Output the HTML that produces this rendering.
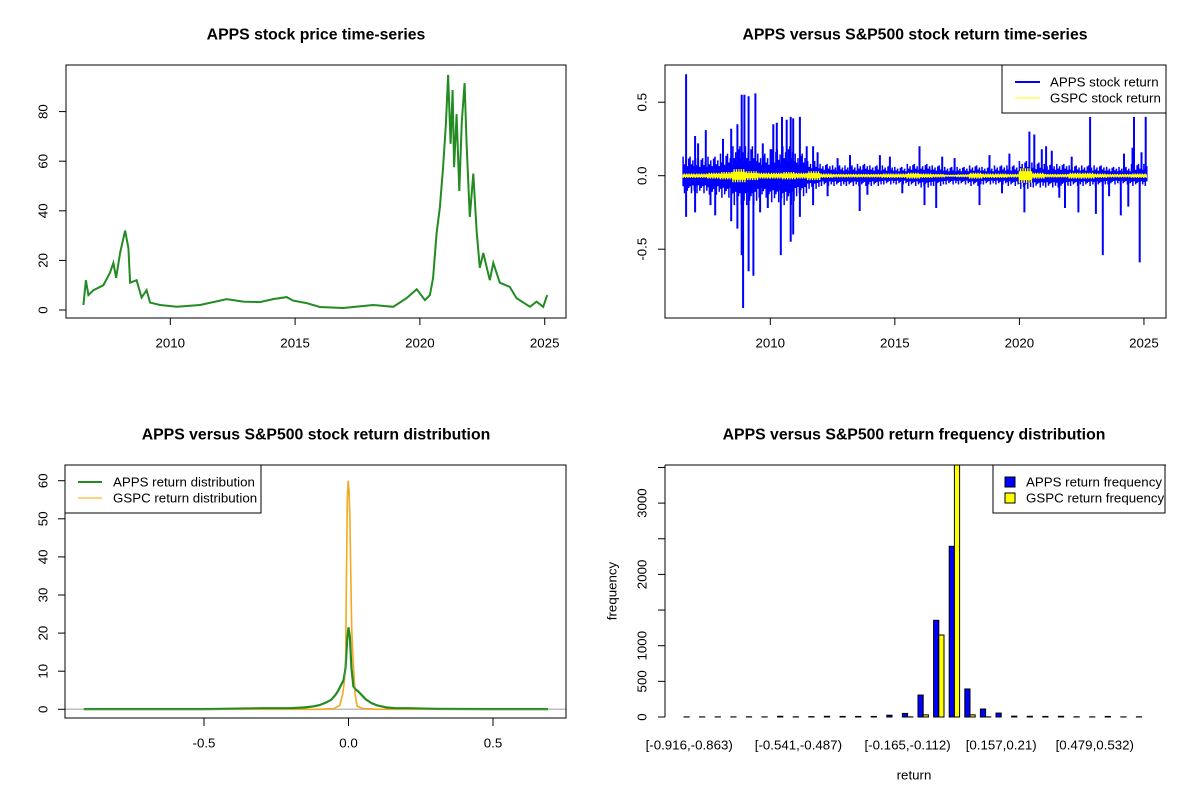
<!DOCTYPE html>
<html><head><meta charset="utf-8"><style>
html,body{margin:0;padding:0;background:#fff;}
svg{display:block;font-family:"Liberation Sans",Arial,sans-serif;}
</style></head><body>
<svg id="s" width="1200" height="800" viewBox="0 0 1200 800" xmlns="http://www.w3.org/2000/svg"></svg>
<script>
// ---------- Panel 1 data: APPS price ----------
const priceYears=[2006.52,2006.62,2006.72,2006.92,2007.32,2007.58,2007.72,2007.83,2007.99,2008.19,2008.32,2008.39,2008.65,2008.85,2009.05,2009.19,2009.59,2010.26,2011.19,2012.26,2012.92,2013.59,2014.12,2014.66,2014.92,2015.46,2015.99,2016.93,2018.13,2018.93,2019.47,2019.87,2020.2,2020.4,2020.53,2020.67,2020.8,2020.93,2021.04,2021.13,2021.23,2021.31,2021.37,2021.47,2021.58,2021.68,2021.79,2021.87,2022.0,2022.14,2022.27,2022.4,2022.54,2022.8,2022.94,2023.2,2023.6,2023.87,2024.41,2024.67,2024.94,2025.1];
const priceValues=[2,12,6,8,10,15,19,13,23,32,25,11,12,5,8,3,2,1.3,2,4.4,3.4,3.2,4.4,5.2,3.8,2.8,1.2,0.8,2,1.3,4.8,8.4,4,6,13,31,41.5,57.7,75,94.8,67,88.7,57.6,79,48,76,91.5,67,37.5,55,32,17,23,12,19,11,9.3,4.8,1.3,3.4,1.3,6];
const priceTicksX=[2010,2015,2020,2025];
const priceTicksY=[0,20,40,60,80];
// ---------- Panel 2 data: returns ----------
const bandYears=[2006.5,2007,2007.5,2008,2008.5,2009,2009.5,2010,2010.5,2011,2011.5,2012,2012.5,2013,2013.5,2014,2014.5,2015,2015.5,2016,2016.5,2017,2017.5,2018,2018.5,2019,2019.5,2020,2020.5,2021,2021.5,2022,2022.5,2023,2023.5,2024,2024.5,2025];
const appsBandUp=[0.13,0.12,0.13,0.15,0.2,0.2,0.15,0.18,0.2,0.15,0.1,0.08,0.07,0.07,0.08,0.07,0.07,0.06,0.08,0.08,0.07,0.06,0.06,0.07,0.06,0.07,0.07,0.1,0.09,0.08,0.08,0.07,0.07,0.07,0.06,0.06,0.08,0.08];
const appsBandDn=[-0.12,-0.12,-0.13,-0.15,-0.2,-0.2,-0.15,-0.18,-0.2,-0.14,-0.09,-0.07,-0.07,-0.07,-0.07,-0.07,-0.06,-0.06,-0.07,-0.08,-0.07,-0.06,-0.06,-0.07,-0.06,-0.06,-0.07,-0.09,-0.08,-0.08,-0.08,-0.07,-0.07,-0.07,-0.06,-0.06,-0.07,-0.07];
const gspcBand=[0.015,0.015,0.02,0.025,0.045,0.03,0.02,0.02,0.025,0.02,0.03,0.015,0.012,0.012,0.012,0.012,0.015,0.015,0.02,0.015,0.012,0.008,0.01,0.02,0.015,0.015,0.012,0.05,0.02,0.012,0.012,0.02,0.02,0.015,0.012,0.012,0.015,0.015];
const spikeYears=[2006.62,2006.62,2006.98,2006.98,2007.41,2007.79,2008.43,2008.43,2008.68,2008.68,2008.85,2008.85,2008.91,2008.96,2009.13,2009.13,2009.32,2009.4,2009.59,2010.12,2010.26,2010.42,2010.47,2010.66,2010.82,2010.82,2010.92,2010.92,2011.19,2011.19,2011.46,2011.72,2011.72,2013.59,2015.99,2016.19,2016.66,2018.4,2020.2,2020.4,2020.6,2021.07,2021.83,2022.37,2022.84,2023.07,2023.35,2024.07,2024.37,2024.54,2024.6,2024.83,2025.07,
2007.1,2007.6,2008.1,2009.7,2009.9,2010.05,2011.9,2012.3,2012.7,2013.2,2013.9,2014.4,2014.8,2015.3,2016.9,2017.4,2018.8,2019.3,2019.6,2020.9,2021.3,2021.6,2022.1,2023.6,2024.2,2024.9];
const spikeValues=[0.69,-0.28,0.27,-0.25,0.31,-0.27,0.32,-0.31,0.35,-0.36,0.55,-0.54,-0.9,0.55,0.54,-0.65,-0.68,0.56,-0.25,0.35,0.36,-0.54,0.4,0.38,0.4,-0.45,0.39,-0.4,0.4,-0.28,0.2,0.2,-0.2,-0.24,0.2,-0.2,-0.22,-0.2,-0.25,0.3,0.28,0.2,-0.22,-0.25,0.4,-0.26,-0.54,-0.27,-0.21,0.19,0.4,-0.59,0.4,
0.22,-0.2,0.25,0.22,-0.22,0.18,0.16,-0.14,0.12,0.14,-0.13,0.14,0.13,-0.12,0.13,0.12,0.14,-0.12,0.15,0.18,0.17,-0.15,0.13,-0.14,0.15,0.16];
const retTicksY=[0.5,0,-0.5];
const retTickLabels=["0.5","0.0","-0.5"];
// ---------- Panel 3 data: densities ----------
const appsDensX=[-0.916,-0.5,-0.3,-0.2,-0.15,-0.12,-0.1,-0.08,-0.06,-0.045,-0.035,-0.025,-0.017,-0.01,-0.005,0,0.005,0.01,0.017,0.025,0.035,0.045,0.06,0.08,0.1,0.13,0.16,0.2,0.3,0.5,0.69];
const appsDensY=[0.05,0.05,0.3,0.3,0.5,0.8,1.1,1.7,2.5,3.8,5,6.5,7.7,11,18,21.5,19,11,6,5.2,4.6,3.8,2.6,1.6,1.0,0.5,0.3,0.3,0.1,0.05,0.05];
const gspcDensX=[-0.916,-0.1,-0.05,-0.03,-0.02,-0.015,-0.01,-0.007,-0.004,-0.001,0.002,0.005,0.008,0.011,0.016,0.023,0.03,0.05,0.1,0.69];
const gspcDensY=[0,0,0.2,1,4,7,12,36,55,60,57,50,35,21,13,4,0.8,0.2,0,0];
const densTicksX=[-0.5,0,0.5];
const densTickLabels=["-0.5","0.0","0.5"];
const densTicksY=[0,10,20,30,40,50,60];
// ---------- Panel 4 data: frequencies ----------
const binLabels=["[-0.916,-0.863)","[-0.541,-0.487)","[-0.165,-0.112)","[0.157,0.21)","[0.479,0.532)"];
const binLabelIdx=[0,7,14,20,26];
const appsFreq=[2,2,2,2,3,2,10,3,5,10,8,8,8,25,50,308,1356,2394,393,112,55,12,10,8,10,3,2,8,2,3];
const gspcFreq=[0,0,0,0,0,0,0,0,0,0,0,0,0,0,2,30,1150,3600,30,2,0,0,0,0,0,0,0,0,0,0];
const freqTicks=[0,500,1000,1500,2000,2500,3000,3500];
const freqTickLabels=["0","500","1000","","2000","","3000",""];

const FS=13.3, TFS=15.8;
const NS="http://www.w3.org/2000/svg";
const svg=document.getElementById('s');
function mk(tag,attrs,parent){const e=document.createElementNS(NS,tag);for(const k in attrs)e.setAttribute(k,attrs[k]);(parent||svg).appendChild(e);return e;}
function txt(s,x,y,size,opts,parent){const e=mk('text',Object.assign({x:x,y:y,'font-size':size,'text-anchor':'middle','dominant-baseline':'central',fill:'#000'},opts||{}),parent);e.textContent=s;return e;}

// ===== Panel 1 =====
{
const g=mk('g',{});


const L=66,R=566,T=65,B=318;
const xs=y=>170.3+(y-2010)*24.96;
const ys=v=>310-v*2.48;
const t=txt('APPS stock price time-series',316,35,TFS,{'font-weight':'bold'},g);


let d=priceYears.map((y,i)=>(i?'L':'M')+xs(y).toFixed(1)+' '+ys(priceValues[i]).toFixed(1)).join(' ');
const p=mk('path',{d:d,fill:'none',stroke:'#228B22','stroke-width':2,'stroke-linejoin':'miter'},g);


const bx=mk('rect',{x:L,y:T,width:R-L,height:B-T,fill:'none',stroke:'#000','stroke-width':1},g);


priceTicksX.forEach(y=>{const x=xs(y);mk('line',{x1:x,x2:x,y1:B,y2:B+7,stroke:'#000'},g);const l=txt(String(y),x,343,FS,{},g);});
priceTicksY.forEach(v=>{const y=ys(v);mk('line',{x1:L,x2:L-7,y1:y,y2:y,stroke:'#000'},g);const l=txt(String(v),43,y,FS,{transform:`rotate(-90 43 ${y})`},g);});
}
// ===== Panel 2 =====
{
const g=mk('g',{});


const L=665,R=1166,T=65,B=318;
const xs=y=>770.3+(y-2010)*24.91;
const ys=v=>175.7-v*147;
const t=txt('APPS versus S&P500 stock return time-series',915,35,TFS,{'font-weight':'bold'},g);


const cp=mk('clipPath',{id:'c2'},g);mk('rect',{x:L,y:T,width:R-L,height:B-T},cp);
const inner=mk('g',{'clip-path':'url(#c2)'},g);
let d='';
bandYears.forEach((y,i)=>{
  const x0=xs(y), x1=Math.min(xs(y+0.5),xs(2025.12));
  let k=0;
  for(let x=x0;x<x1;x+=1.4,k++){
    const m=k%5;
    const f=[1,0.6,0.8,0.5,0.9][m];
    const f2=[0.6,1,0.55,0.85,0.7][m];
    d+=`M${x.toFixed(1)} ${ys(appsBandUp[i]*f).toFixed(1)}V${ys(appsBandDn[i]*f2).toFixed(1)}`;
  }
});
const band=mk('path',{d:d,stroke:'#0000FF','stroke-width':1.5,fill:'none'},inner);


let sd='';
spikeYears.forEach((y,i)=>{sd+=`M${xs(y).toFixed(1)} ${ys(0).toFixed(1)}V${ys(spikeValues[i]).toFixed(1)}`;});
const sp=mk('path',{d:sd,stroke:'#0000FF','stroke-width':2,fill:'none'},inner);


let yd='';
bandYears.forEach((y,i)=>{
  const x0=xs(y), x1=Math.min(xs(y+0.5),xs(2025.12));
  let k=0;
  for(let x=x0;x<x1;x+=1.2,k++){const f=(k%2)?1:0.6;yd+=`M${x.toFixed(1)} ${ys(gspcBand[i]*f).toFixed(1)}V${ys(-gspcBand[i]*(k%2?0.6:1)).toFixed(1)}`;}
});
const yl=mk('path',{d:yd,stroke:'#FFFF00','stroke-width':1.3,fill:'none'},inner);


const bx=mk('rect',{x:L,y:T,width:R-L,height:B-T,fill:'none',stroke:'#000'},g);


priceTicksX.forEach(y=>{const x=xs(y);mk('line',{x1:x,x2:x,y1:B,y2:B+7,stroke:'#000'},g);const l=txt(String(y),x,343,FS,{},g);});
retTicksY.forEach((v,i)=>{const y=ys(v);mk('line',{x1:L,x2:L-7,y1:y,y2:y,stroke:'#000'},g);const l=txt(retTickLabels[i],642,y,FS,{transform:`rotate(-90 642 ${y})`},g);});
const lg=mk('g',{},g);


mk('rect',{x:1002,y:65,width:164,height:48,fill:'#fff',stroke:'#000'},lg);
mk('line',{x1:1015,x2:1040,y1:82,y2:82,stroke:'#0000FF','stroke-width':2},lg);
mk('line',{x1:1015,x2:1040,y1:98,y2:98,stroke:'#FFFF00','stroke-width':1},lg);
txt('APPS stock return',1050,82,FS,{'text-anchor':'start'},lg);
txt('GSPC stock return',1050,98,FS,{'text-anchor':'start'},lg);
}
// ===== Panel 3 =====
{
const g=mk('g',{});


const L=65,R=566,T=465,B=718;
const xs=v=>348.5+v*289;
const ys=v=>709.3-v*3.81;
const t=txt('APPS versus S&P500 stock return distribution',316,435,TFS,{'font-weight':'bold'},g);


const base=mk('line',{x1:L,x2:R,y1:ys(0),y2:ys(0),stroke:'#BEBEBE','stroke-width':1.5},g);


const gd=gspcDensX.map((x,i)=>(i?'L':'M')+xs(x).toFixed(1)+' '+ys(gspcDensY[i]).toFixed(1)).join(' ');
const o=mk('path',{d:gd,fill:'none',stroke:'#FFA500','stroke-width':1.6},g);


const ad=appsDensX.map((x,i)=>(i?'L':'M')+xs(x).toFixed(1)+' '+ys(appsDensY[i]).toFixed(1)).join(' ');
const a=mk('path',{d:ad,fill:'none',stroke:'#228B22','stroke-width':2.2},g);


const gr=mk('path',{d:gd,fill:'none',stroke:'#BEBEBE','stroke-width':0.4,'stroke-opacity':0.6},g);


const bx=mk('rect',{x:L,y:T,width:R-L,height:B-T,fill:'none',stroke:'#000'},g);


densTicksX.forEach((v,i)=>{const x=xs(v);mk('line',{x1:x,x2:x,y1:B,y2:B+8,stroke:'#000'},g);const l=txt(densTickLabels[i],x,743,FS,{},g);});
densTicksY.forEach(v=>{const y=ys(v);mk('line',{x1:L,x2:L-7,y1:y,y2:y,stroke:'#000'},g);const l=txt(String(v),43,y,FS,{transform:`rotate(-90 43 ${y})`},g);});
const lg=mk('g',{},g);


mk('rect',{x:65,y:465,width:196,height:48,fill:'#fff',stroke:'#000'},lg);
mk('line',{x1:78,x2:102,y1:482,y2:482,stroke:'#228B22','stroke-width':2},lg);
mk('line',{x1:78,x2:102,y1:498,y2:498,stroke:'#FFA500','stroke-width':1},lg);
txt('APPS return distribution',113,482,FS,{'text-anchor':'start'},lg);
txt('GSPC return distribution',113,498,FS,{'text-anchor':'start'},lg);
}
// ===== Panel 4 =====
{
const g=mk('g',{});


const L=665,R=1164,T=465,B=717;
const xu=u=>684+(u-1)*5.2;
const ys=v=>717-v*0.0713;
const t=txt('APPS versus S&P500 return frequency distribution',914,435,TFS,{'font-weight':'bold'},g);


const cp=mk('clipPath',{id:'c4'},g);mk('rect',{x:L,y:T,width:R-L,height:B-T+2},cp);
const inner=mk('g',{'clip-path':'url(#c4)'},g);
appsFreq.forEach((v,k)=>{
  const x=xu(3*k+1);
  const r=mk('rect',{x:x,y:ys(v),width:5.2,height:Math.max(0,B-ys(v)),fill:'#0000FF',stroke:'#000','stroke-width':1},inner);
  
  
});
gspcFreq.forEach((v,k)=>{
  const x=xu(3*k+2);
  const r=mk('rect',{x:x,y:ys(v),width:5.2,height:Math.max(0,B-ys(v)),fill:'#FFFF00',stroke:'#000','stroke-width':1},inner);
  
  
});
mk('line',{x1:L,x2:L,y1:T,y2:B,stroke:'#000'},g);
mk('line',{x1:L,x2:R+2,y1:T,y2:T,stroke:'#000'},g);
freqTicks.forEach((v,i)=>{const y=ys(v);mk('line',{x1:L,x2:L-7,y1:y,y2:y,stroke:'#000'},g);if(freqTickLabels[i]){const l=txt(freqTickLabels[i],642,y,FS,{transform:`rotate(-90 642 ${y})`},g);}});
binLabelIdx.forEach((k,i)=>{const x=xu(3*k+2);const l=txt(binLabels[i],x,745,FS,{},g);});
const yt=txt('frequency',612,591,FS,{transform:'rotate(-90 612 591)'},g);


const xt=txt('return',914,775,FS,{},g);


const lg=mk('g',{},g);


mk('rect',{x:993,y:465,width:172,height:48,fill:'#fff',stroke:'#000'},lg);
mk('rect',{x:1005,y:477,width:10,height:10,fill:'#0000FF',stroke:'#000'},lg);
mk('rect',{x:1005,y:493,width:10,height:10,fill:'#FFFF00',stroke:'#000'},lg);
txt('APPS return frequency',1026,482,FS,{'text-anchor':'start'},lg);
txt('GSPC return frequency',1026,498,FS,{'text-anchor':'start'},lg);
}
</script>
</body></html>
